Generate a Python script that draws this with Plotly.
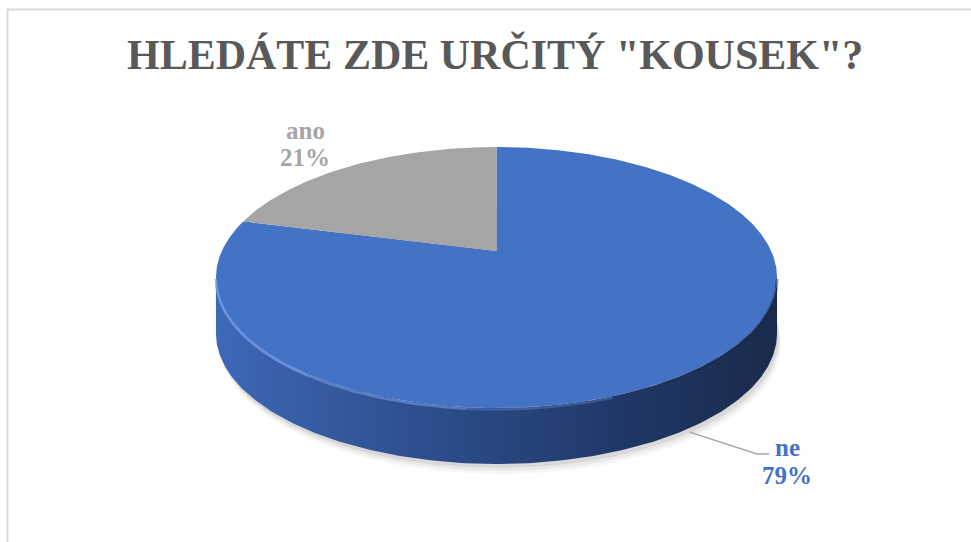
import numpy as np
import plotly.graph_objects as go

# ---------------- data ----------------
labels = ["ne", "ano"]
values = [79, 21]
slice_colors = ["#4472C4", "#A5A5A5"]
title_text = 'HLEDÁTE ZDE URČITÝ "KOUSEK"?'

# ---------------- geometry / style ----------------
W, H = 971, 542
CX, VY = 496.5, 251.0          # projected pie centre (pixels)
A, B, K = 274.7, 125.1, 0.203  # horizontal / vertical radius, perspective factor
DEPTH = 56


def proj(theta_deg, dy=0.0, dx=0.0):
    t = np.radians(np.asarray(theta_deg, dtype=float))
    X, Y = np.sin(t), np.cos(t)
    w = 1 + K * Y
    return CX + A * X / w + dx, VY - B * Y / w + dy


total = float(sum(values))
fracs = [v / total for v in values]
starts = np.concatenate([[0.0], np.cumsum(fracs)[:-1]]) * 360
ends = np.cumsum(fracs) * 360

fig = go.Figure()

# soft shadow
th_all = np.linspace(0, 360, 361)
for (sdx, sdy, a) in [(4, 10, 0.035), (3, 7, 0.05), (2, 4, 0.07)]:
    sx, sy = proj(th_all, DEPTH + sdy, sdx)
    fig.add_trace(go.Scatter(x=sx, y=sy, mode="lines", fill="toself",
                             fillcolor=f"rgba(0,0,0,{a})", line=dict(width=0),
                             hoverinfo="skip", showlegend=False))

# side wall (front half)
th_r = np.degrees(np.arccos(-K))
th_l = 360 - th_r
th_side = np.linspace(th_r, th_l, 200)
tx, ty = proj(th_side)
bx, by = proj(th_side[::-1], DEPTH)
fig.add_trace(go.Scatter(
    x=np.concatenate([tx, bx]), y=np.concatenate([ty, by]),
    mode="lines", fill="toself", line=dict(width=0),
    fillgradient=dict(type="horizontal", start=float(tx.min()), stop=float(tx.max()),
                      colorscale=[[0.0, "#3e69b8"], [0.1, "#3961aa"], [0.33, "#2f5192"],
                                  [0.55, "#26437a"], [0.75, "#1f3664"], [1.0, "#1a2a4a"]]),
    hoverinfo="skip", showlegend=False))

# top face slices
for lab, s, e, c in zip(labels, starts, ends, slice_colors):
    th = np.linspace(s, e, max(int(e - s) * 2, 10))
    px, py = proj(th)
    fig.add_trace(go.Scatter(
        x=np.concatenate([[CX], px, [CX]]), y=np.concatenate([[VY], py, [VY]]),
        mode="lines", fill="toself", fillcolor=c, line=dict(width=0),
        name=lab, hoverinfo="skip", showlegend=False))

# bevel highlight on front rim
for (a0, a1, al) in [(th_l, 215, 0.75), (215, 185, 0.55), (185, 160, 0.3)]:
    hx, hy = proj(np.linspace(a0, a1, 60), 1.5)
    fig.add_trace(go.Scatter(x=hx, y=hy, mode="lines",
                             line=dict(color=f"rgba(120,160,236,{al})", width=2.5),
                             hoverinfo="skip", showlegend=False))
# dark blur on right rim
for (a0, a1, al) in [(150, 120, 0.25), (120, th_r, 0.45)]:
    hx, hy = proj(np.linspace(a0, a1, 60), 1.5)
    fig.add_trace(go.Scatter(x=hx, y=hy, mode="lines",
                             line=dict(color=f"rgba(25,40,75,{al})", width=3),
                             hoverinfo="skip", showlegend=False))

# leader line for "ne"
lx0, ly0 = proj(144, DEPTH + 4)
fig.add_trace(go.Scatter(x=[float(lx0), 757, 769], y=[float(ly0), 454, 454], mode="lines",
                         line=dict(color="#a6a6a6", width=1.5),
                         hoverinfo="skip", showlegend=False))

# labels
label_pos = {"ne": (787, 447, 475), "ano": (305, 130, 157)}
serif = "Liberation Serif, Times New Roman, serif"
for lab, v, c in zip(labels, values, slice_colors):
    x, y1, y2 = label_pos[lab]
    pct = f"{round(v / total * 100):d}%"
    for txt, yy in [(lab, y1), (pct, y2)]:
        fig.add_annotation(x=x, y=yy, xref="x", yref="y", text=txt, showarrow=False,
                           font=dict(family=serif, size=25, color=c, weight="bold"))

fig.add_annotation(x=495, y=54, xref="x", yref="y", text=title_text, showarrow=False,
                   font=dict(family=serif, size=42, color="#595959", weight="bold"))

# chart border
fig.add_shape(type="rect", xref="x", yref="y", x0=7.5, y0=9.5, x1=1000, y1=600,
              line=dict(color="#d9d9d9", width=2), layer="below")

fig.update_layout(
    width=W, height=H, autosize=False,
    margin=dict(l=0, r=0, t=0, b=0),
    paper_bgcolor="white", plot_bgcolor="white",
    xaxis=dict(range=[0, W], visible=False, fixedrange=True),
    yaxis=dict(range=[H, 0], visible=False, fixedrange=True),
    showlegend=False,
)

fig.write_html("out.html", config={"displayModeBar": False},
               post_script="document.body.style.margin='0';document.body.style.overflow='hidden';")
